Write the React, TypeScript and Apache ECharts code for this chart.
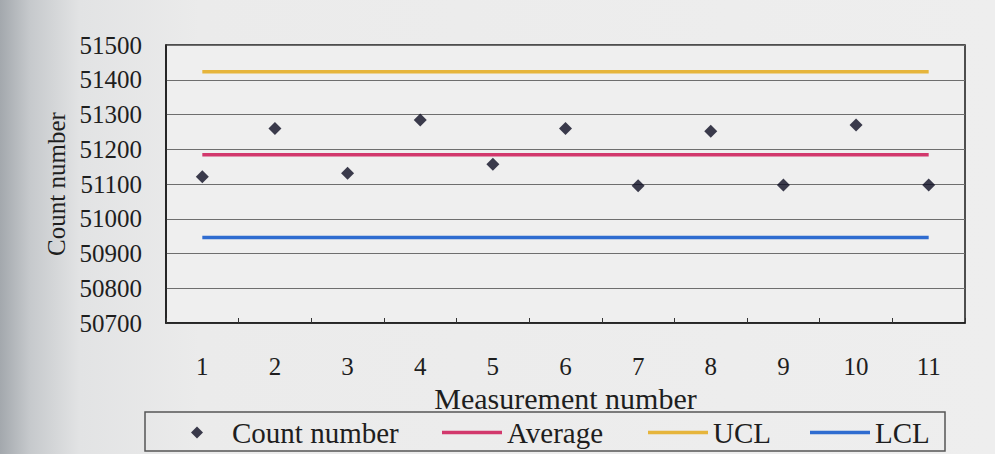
import React, { useEffect, useRef } from "react";
import * as echarts from "echarts";

const categories = ["1", "2", "3", "4", "5", "6", "7", "8", "9", "10", "11"];
const countNumber = [51121, 51260, 51131, 51284, 51157, 51260, 51095, 51252, 51097, 51270, 51097];
const averageValues = [51184, 51184, 51184, 51184, 51184, 51184, 51184, 51184, 51184, 51184, 51184];
const uclValues = [51423, 51423, 51423, 51423, 51423, 51423, 51423, 51423, 51423, 51423, 51423];
const lclValues = [50946, 50946, 50946, 50946, 50946, 50946, 50946, 50946, 50946, 50946, 50946];
const yMin = 50700;
const yMax = 51500;
const yStep = 100;

const FONT = "Liberation Serif";
const TEXT = "#1e1e1e";
const LINE_ICON = "rect";

export default function App() {
  const ref = useRef<HTMLDivElement>(null);
  useEffect(() => {
    if (!ref.current) return;
    const chart = echarts.init(ref.current, null, { renderer: "svg" });
    const legendText = { fontFamily: FONT, fontSize: 29, color: TEXT };
    chart.setOption({
      animation: false,
      textStyle: { fontFamily: FONT },
      backgroundColor: new echarts.graphic.LinearGradient(0, 0, 1, 0, [
        { offset: 0, color: "#a3a8ad" },
        { offset: 0.03, color: "#c6c9cc" },
        { offset: 0.08, color: "#e2e3e4" },
        { offset: 0.2, color: "#ebebeb" },
        { offset: 1, color: "#eeeeee" },
      ]),
      grid: {
        left: 166,
        right: 30,
        top: 45,
        bottom: 131,
        show: true,
        backgroundColor: "#efefef",
        borderColor: "#1a1a1a",
        borderWidth: 1.5,
      },
      xAxis: {
        type: "category",
        data: categories,
        boundaryGap: true,
        name: "Measurement number",
        nameLocation: "middle",
        nameGap: 54,
        nameTextStyle: { fontFamily: FONT, fontSize: 30, color: TEXT },
        axisLine: { lineStyle: { color: "#1a1a1a", width: 1.5 } },
        axisTick: { show: true, inside: true, length: 5, lineStyle: { color: "#333" } },
        axisLabel: { fontFamily: FONT, fontSize: 25, color: TEXT, margin: 31 },
        splitLine: { show: false },
      },
      yAxis: {
        type: "value",
        min: yMin,
        max: yMax,
        interval: yStep,
        name: "Count number",
        nameLocation: "middle",
        nameGap: 88,
        nameRotate: 90,
        nameTextStyle: { fontFamily: FONT, fontSize: 25, color: TEXT },
        axisLine: { show: true, lineStyle: { color: "#1a1a1a", width: 1.5 } },
        axisTick: { show: false },
        axisLabel: {
          fontFamily: FONT,
          fontSize: 25,
          color: TEXT,
          margin: 24,
          formatter: (v: number) => String(v),
        },
        splitLine: { show: true, lineStyle: { color: "#6e6e6e", width: 1 } },
      },
      legend: [
        {
          data: ["Count number"],
          left: 191,
          top: 418,
          padding: 0,
          itemWidth: 12,
          itemHeight: 12,
          textStyle: { ...legendText, padding: [0, 0, 0, 24] },
        },
        {
          data: [{ name: "Average", icon: LINE_ICON }],
          left: 442,
          top: 418,
          padding: 0,
          itemWidth: 60,
          itemHeight: 3.5,
          textStyle: legendText,
        },
        {
          data: [{ name: "UCL", icon: LINE_ICON }],
          left: 648,
          top: 418,
          padding: 0,
          itemWidth: 60,
          itemHeight: 3.5,
          textStyle: legendText,
        },
        {
          data: [{ name: "LCL", icon: LINE_ICON }],
          left: 810,
          top: 418,
          padding: 0,
          itemWidth: 60,
          itemHeight: 3.5,
          textStyle: legendText,
        },
      ],
      graphic: [
        {
          type: "rect",
          shape: { x: 145, y: 412, width: 800, height: 39 },
          style: { fill: "none", stroke: "#555", lineWidth: 1.5 },
          silent: true,
          z: -1,
        },
      ],
      series: [
        {
          name: "UCL",
          type: "line",
          data: uclValues,
          symbol: "none",
          showSymbol: false,
          lineStyle: { color: "#e6b53c", width: 3.5 },
          itemStyle: { color: "#e6b53c" },
        },
        {
          name: "Average",
          type: "line",
          data: averageValues,
          symbol: "none",
          showSymbol: false,
          lineStyle: { color: "#d2386c", width: 3.5 },
          itemStyle: { color: "#d2386c" },
        },
        {
          name: "LCL",
          type: "line",
          data: lclValues,
          symbol: "none",
          showSymbol: false,
          lineStyle: { color: "#2f6cd0", width: 3.5 },
          itemStyle: { color: "#2f6cd0" },
        },
        {
          name: "Count number",
          type: "scatter",
          data: countNumber,
          symbol: "diamond",
          symbolSize: 13,
          itemStyle: { color: "#0c0c22" },
          z: 5,
        },
      ],
    });
    return () => chart.dispose();
  }, []);
  return (
    <div
      ref={ref}
      style={{ position: "fixed", left: 0, top: 0, width: 995, height: 454 }}
    />
  );
}
